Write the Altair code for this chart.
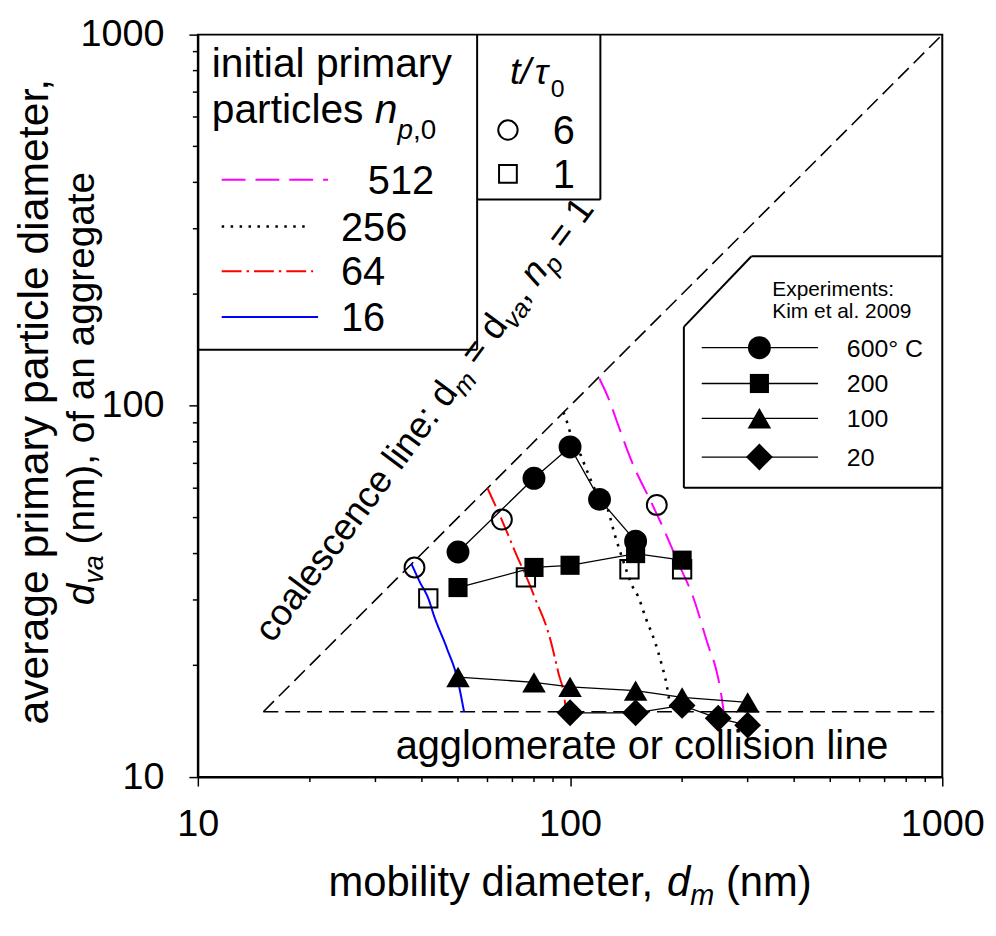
import math
import altair as alt
import pandas as pd

FONT = "Liberation Sans"

# ---------------- data ----------------
kim600_x = [50, 80, 100, 120, 150]
kim600_y = [40.4, 63.8, 77.5, 56.0, 43.2]
kim200_x = [50, 80, 100, 150, 200]
kim200_y = [32.4, 36.7, 37.2, 40.0, 38.4]
kim100_x = [50, 80, 100, 150, 200, 300]
kim100_y = [18.6, 18.0, 17.5, 17.1, 16.4, 15.9]
kim20_x = [100, 150, 200, 250, 300]
kim20_y = [14.9, 14.9, 15.6, 14.4, 13.8]

open_circle_x = [38.2, 65.6, 171.0]
open_circle_y = [36.7, 49.4, 54.1]
open_square_x = [41.6, 76.1, 144.4, 200.0]
open_square_y = [30.3, 34.5, 36.3, 36.3]

sim16_x = [37.5, 39.5, 41.6, 43.1, 46.7, 49.8, 51.9]
sim16_y = [37.5, 33.5, 30.3, 27.2, 22.2, 18.4, 15.0]
sim64_x = [60.0, 65.5, 72.0, 77.2, 80.0, 88.4, 92.9, 96.9, 97.5]
sim64_y = [60.0, 49.4, 39.4, 33.7, 30.8, 23.6, 19.2, 15.9, 15.0]
sim256_x = [96.0, 97.5, 99.6, 106.3, 110.8, 116.6, 126.4, 131.5, 138.5, 147.0,
            152.0, 160.0, 169.9, 176.0, 181.8, 184.3, 187.5]
sim256_y = [96.0, 92.3, 86.0, 74.5, 67.2, 59.5, 52.5, 45.4, 38.6, 32.7,
            30.8, 26.7, 22.8, 20.2, 17.7, 16.3, 15.0]
sim512_x = [119.9, 127.5, 134.7, 145.9, 166.5, 178.8, 194.9, 213.7, 235.8,
            246.5, 254.0, 258.5]
sim512_y = [118.5, 103.4, 88.7, 71.5, 54.1, 46.4, 37.9, 30.7, 22.4,
            19.6, 17.0, 15.1]

coal_x = [15, 1000]
coal_y = [15, 1000]
aggl_x = [15, 1000]
aggl_y = [15, 15]

major_ticks = [10, 100, 1000]
minor_ticks = [20, 30, 40, 50, 60, 70, 80, 90, 200, 300, 400, 500, 600, 700, 800, 900]

legend_np = ["512", "256", "64", "16"]
legend_t = ["6", "1"]
legend_kim = ["600\u00b0 C", "200", "100", "20"]

# ---------------- layout ----------------
W, H = 749, 747
OX, OY = 199, 32  # page position of plot origin


def P(x, y):
    return x - OX, y - OY


AW = {' ': .278, '(': .333, ')': .333, ',': .278, '.': .278, '/': .278, ':': .278,
      '=': .584, '\u00b0': .4, 'C': .722, 'E': .667, 'K': .667,
      'a': .556, 'b': .556, 'c': .5, 'd': .556, 'e': .556, 'f': .278, 'g': .556,
      'h': .556, 'i': .222, 'l': .222, 'm': .833, 'n': .556, 'o': .556, 'p': .556,
      'r': .333, 's': .5, 't': .278, 'v': .5, 'x': .5, 'y': .5, '\u03c4': .46}


def tw(s, size):
    return sum(AW.get(ch, .556) for ch in s) * size


def runs_rows(runs, x0, y0, angle=0, center=False):
    th = math.radians(angle)
    ux, uy = math.cos(th), math.sin(th)
    nx, ny = -math.sin(th), math.cos(th)
    total = sum(tw(r[0], r[1]) for r in runs)
    if center:
        x0 -= ux * total / 2
        y0 -= uy * total / 2
    rows, pos = [], 0.0
    for t, s, it, sh in runs:
        lead = len(t) - len(t.lstrip(' '))
        p = pos + tw(t[:lead], s)
        rows.append(dict(px=x0 + ux * p + nx * sh, py=y0 + uy * p + ny * sh,
                         txt=t.strip(' '), size=s, italic=it, angle=angle))
        pos += tw(t, s)
    return rows


text_rows = []
# x title
cx, by = P(573.5, 899)
text_rows += runs_rows([("mobility diameter, ", 42, False, 0), ("d", 42, True, 0),
                        ("m", 29, True, 9), (" (nm)", 42, False, 0)], cx, by, 0, True)
# y title
x1, cy = P(48, 400)
text_rows += runs_rows([("average primary particle diameter,", 43, False, 0)], x1, cy, 270, True)
x2, cy2 = P(95, 388)
text_rows += runs_rows([("d", 39, True, 0), ("va", 27, True, 9),
                        (" (nm), of an aggregate", 39, False, 0)], x2, cy2, 270, True)
# coalescence text
sx, sy = P(274, 645)
text_rows += runs_rows([("coalescence line: d", 37, False, 0), ("m", 26, True, 8),
                        (" = d", 37, False, 0), ("va", 26, True, 8), (", ", 37, False, 0),
                        ("n", 37, True, 0), ("p", 26, True, 8), (" = 1", 37, False, 0)],
                       sx, sy, 306.6)
# agglomerate text
ax_, ay_ = P(398, 761)
text_rows += runs_rows([("agglomerate or collision line", 40, False, 0)], ax_, ay_)
# legend 1 title
lx, ly = P(213, 75)
text_rows += runs_rows([("initial primary", 41, False, 0)], lx, ly)
lx, ly = P(213, 121)
text_rows += runs_rows([("particles ", 41, False, 0), ("n", 41, True, 0),
                        ("p", 28, True, 16), (",0", 28, False, 16)], lx, ly)
# legend 1 labels
np_rows_y = [178, 225, 270, 316]
np_text_x = [370, 343, 343, 343]
np_line_x2 = [330, 313, 315, 320]
for lab, yy, xx in zip(legend_np, np_rows_y, np_text_x):
    px, py = P(xx, yy + 0.36 * 40)
    text_rows += runs_rows([(lab, 40, False, 0)], px, py)
# legend 2 title
px, py = P(513, 82)
text_rows += runs_rows([("t/", 38, True, 0)], px, py)
px, py = P(538, 82)
text_rows += runs_rows([("\u03c4", 36, True, 0)], px, py)
px, py = P(554, 82)
text_rows += runs_rows([("0", 25, False, 13)], px, py)
t_rows_y = [128, 172]
for lab, yy in zip(legend_t, t_rows_y):
    px, py = P(556, yy + 0.36 * 40)
    text_rows += runs_rows([(lab, 40, False, 0)], px, py)
# legend 3
px, py = P(777, 295)
text_rows += runs_rows([("Experiments:", 21, False, 0)], px, py)
px, py = P(777, 317)
text_rows += runs_rows([("Kim et al. 2009", 21, False, 0)], px, py)
kim_rows_y = [347, 383, 418, 457]
for lab, yy in zip(legend_kim, kim_rows_y):
    px, py = P(852, yy + 0.36 * 25)
    text_rows += runs_rows([(lab, 25, False, 0)], px, py)

text_df = pd.DataFrame(text_rows)

# ---------------- scales / axes ----------------
xscale = alt.Scale(type="log", domain=[10, 1000], nice=False)
yscale = alt.Scale(type="log", domain=[10, 1000], nice=False)
lab_expr = "format(datum.value, 'd')"
xaxis = alt.Axis(values=major_ticks, labelExpr=lab_expr, tickSize=9, title=None,
                 grid=False, labelOverlap=False, labelFlush=False, labelPadding=20,
                 labelFontSize=38, labelFont=FONT, labelColor="black", tickColor="black",
                 tickWidth=1.5, domainColor="black", domainWidth=2)
yaxis = alt.Axis(values=major_ticks, labelExpr=lab_expr, tickSize=9, title=None,
                 grid=False, labelOverlap=False, labelFlush=False, labelPadding=25,
                 labelFontSize=38, labelFont=FONT, labelColor="black", tickColor="black",
                 tickWidth=1.5, domainColor="black", domainWidth=2)


def df_xy(xs, ys, name="s"):
    return pd.DataFrame({"x": xs, "y": ys, "i": range(len(xs)), "s": name})


def X():
    return alt.X("x:Q", scale=xscale, axis=xaxis)


def Y():
    return alt.Y("y:Q", scale=yscale, axis=yaxis)


layers = []
# reference dashed lines
ref = pd.concat([df_xy(coal_x, coal_y, "c"), df_xy(aggl_x, aggl_y, "a")])
layers.append(alt.Chart(ref).mark_line(color="black", strokeWidth=1.6, strokeDash=[15, 7])
              .encode(x=X(), y=Y(), detail="s:N", order="i:Q"))

# minor ticks (outside, shorter than the major ones)
layers.append(alt.Chart(pd.DataFrame({"x": minor_ticks})).mark_rule(color="black", strokeWidth=1.5)
              .encode(x=X(), y=alt.value(H), y2=alt.value(H + 5)))
layers.append(alt.Chart(pd.DataFrame({"y": minor_ticks})).mark_rule(color="black", strokeWidth=1.5)
              .encode(y=Y(), x=alt.value(0), x2=alt.value(-5)))

# simulation curves
sims = [(sim512_x, sim512_y, "#ff00ff", [24, 10], 2),
        (sim256_x, sim256_y, "black", [2.5, 6.5], 2.6),
        (sim64_x, sim64_y, "#ff0000", [20, 5, 2.5, 5], 2),
        (sim16_x, sim16_y, "#0000ff", [1, 0], 2)]
for xs, ys, col, dash, sw in sims:
    layers.append(alt.Chart(df_xy(xs, ys)).mark_line(color=col, strokeWidth=sw, strokeDash=dash,
                                                     interpolate="monotone")
                  .encode(x=X(), y=Y(), order="i:Q"))

# open markers (simulation results)
layers.append(alt.Chart(df_xy(open_circle_x, open_circle_y)).mark_point(
    shape="circle", size=400, filled=False, color="black", strokeWidth=2, opacity=1)
    .encode(x=X(), y=Y()))
layers.append(alt.Chart(df_xy(open_square_x, open_square_y)).mark_point(
    shape="square", size=340, filled=False, color="black", strokeWidth=2, opacity=1)
    .encode(x=X(), y=Y()))

# experiments
kim = [(kim600_x, kim600_y, "circle", 530), (kim200_x, kim200_y, "square", 370),
       (kim100_x, kim100_y, "triangle-up", 560), (kim20_x, kim20_y, "diamond", 730)]
for xs, ys, shp, sz in kim:
    layers.append(alt.Chart(df_xy(xs, ys)).mark_line(color="black", strokeWidth=1.3)
                  .encode(x=X(), y=Y(), order="i:Q"))
for xs, ys, shp, sz in kim:
    layers.append(alt.Chart(df_xy(xs, ys)).mark_point(shape=shp, size=sz, filled=True,
                                                      color="black", opacity=1)
                  .encode(x=X(), y=Y()))

# ---------------- legends (pixel space) ----------------
PX = alt.X("px:Q", scale=None, axis=None)
PY = alt.Y("py:Q", scale=None, axis=None)


def seg_df(segs):
    return pd.DataFrame([dict(px=P(a, b)[0], py=P(a, b)[1], px2=P(c, d)[0], py2=P(c, d)[1])
                         for a, b, c, d in segs])


box_segs = [(480, 32, 480, 349), (199, 349, 480, 349),          # legend 1
            (604, 32, 604, 198), (480, 198, 604, 198),          # legend 2
            (756, 255, 948, 255), (756, 255, 688, 326),         # legend 3
            (688, 326, 688, 488), (688, 488, 948, 488)]
layers.append(alt.Chart(seg_df(box_segs)).mark_rule(color="black", strokeWidth=2)
              .encode(x=PX, y=PY, x2="px2:Q", y2="py2:Q"))

for (xs, ys, col, dash, sw), yy, x2 in zip(sims, np_rows_y, np_line_x2):
    layers.append(alt.Chart(seg_df([(223, yy, x2, yy)])).mark_rule(
        color=col, strokeWidth=sw, strokeDash=dash).encode(x=PX, y=PY, x2="px2:Q", y2="py2:Q"))

# legend 2 symbols
for shp, sz, yy in [("circle", 380, 128), ("square", 320, 172)]:
    q = P(511, yy)
    layers.append(alt.Chart(pd.DataFrame({"px": [q[0]], "py": [q[1]]})).mark_point(
        shape=shp, size=sz, filled=False, color="black", strokeWidth=2, opacity=1)
        .encode(x=PX, y=PY))

# legend 3 lines + symbols
layers.append(alt.Chart(seg_df([(706, yy, 823, yy) for yy in kim_rows_y])).mark_rule(
    color="black", strokeWidth=1.3).encode(x=PX, y=PY, x2="px2:Q", y2="py2:Q"))
for (xs, ys, shp, sz), yy in zip(kim, kim_rows_y):
    q = P(764, yy)
    layers.append(alt.Chart(pd.DataFrame({"px": [q[0]], "py": [q[1]]})).mark_point(
        shape=shp, size=sz, filled=True, color="black", opacity=1).encode(x=PX, y=PY))

# texts
for it in [False, True]:
    sub = text_df[text_df["italic"] == it]
    layers.append(alt.Chart(sub).mark_text(
        font=FONT, align="left", baseline="alphabetic", color="black",
        fontStyle="italic" if it else "normal")
        .encode(x=PX, y=PY, text="txt:N",
                size=alt.Size("size:Q", scale=None, legend=None),
                angle=alt.Angle("angle:Q", scale=None)))

chart = alt.layer(*layers).properties(
    width=W, height=H,
    autosize=alt.AutoSizeParams(type="none"),
    padding={"left": OX - 8, "top": OY - 8, "right": 46, "bottom": 140},
).configure_view(stroke="black", strokeWidth=2)

chart.save("out.html", embed_options={"renderer": "svg", "actions": False})
